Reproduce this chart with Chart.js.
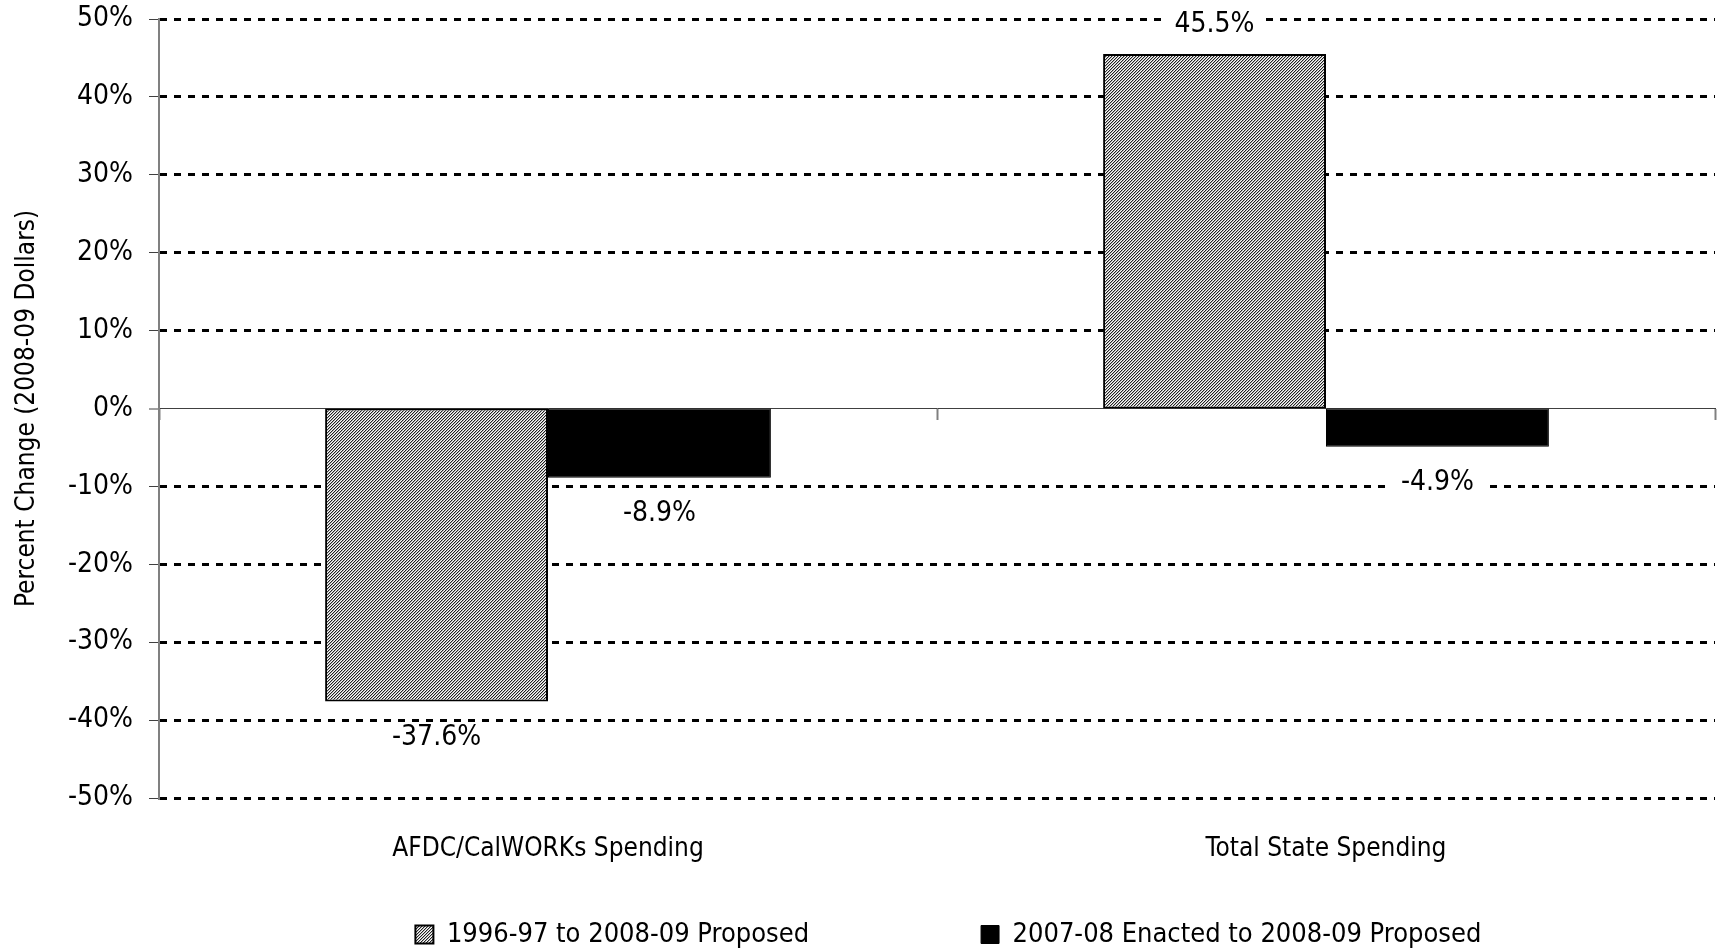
<!DOCTYPE html>
<html>
<head>
<meta charset="utf-8">
<title>Percent Change in Spending</title>
<script src="https://cdn.jsdelivr.net/npm/chart.js@4.4.1/dist/chart.umd.min.js"></script>
<style>
  html, body { margin: 0; padding: 0; background: #fff; }
  #wrap { width: 1721px; height: 950px; }
</style>
</head>
<body>
<div id="wrap"><canvas id="myChart" width="1721" height="950"></canvas></div>
<script>
// categories and series values (percent change, 2008-09 dollars)
const categories = ['AFDC/CalWORKs Spending', 'Total State Spending'];
const longTerm = [-37.6, 45.5];   // 1996-97 to 2008-09 Proposed
const shortTerm = [-8.9, -4.9];   // 2007-08 Enacted to 2008-09 Proposed
const seriesNames = ['1996-97 to 2008-09 Proposed', '2007-08 Enacted to 2008-09 Proposed'];
const yTicks = [-50, -40, -30, -20, -10, 0, 10, 20, 30, 40, 50];

const FONT = "'DejaVu Sans Condensed', 'Liberation Sans Narrow', sans-serif";
const FS = 26;

// fine diagonal hatch for the first series
function makeHatch() {
    const c = document.createElement('canvas');
    c.width = 3; c.height = 3;
    const g = c.getContext('2d');
    const shades = ['#222', '#b0b0b0', '#fafafa'];
    for (let x = 0; x < 3; x++) {
        for (let y = 0; y < 3; y++) {
            g.fillStyle = shades[(x + y) % 3];
            g.fillRect(x, y, 1, 1);
        }
    }
    return g.createPattern(c, 'repeat');
}

// value labels past the bar end, on a white patch so the gridline breaks
const valueLabels = {
    id: 'valueLabels',
    afterDatasetsDraw(chart) {
        const ctx = chart.ctx;
        ctx.save();
        ctx.font = '28px ' + FONT;
        ctx.textAlign = 'center';
        ctx.textBaseline = 'middle';
        chart.data.datasets.forEach((ds, i) => {
            chart.getDatasetMeta(i).data.forEach((bar, j) => {
                const v = ds.data[j];
                const txt = v.toFixed(1) + '%';
                const y = v >= 0 ? bar.y - 30 : bar.y + 35;
                const w = ctx.measureText(txt).width + 22;
                ctx.fillStyle = '#fff';
                ctx.fillRect(bar.x - w / 2, y - 14, w, 28);
                ctx.fillStyle = '#000';
                ctx.fillText(txt, bar.x, y + 1);
            });
        });
        ctx.restore();
    }
};

const config = {
    type: 'bar',
    data: {
        labels: categories,
        datasets: [{
            label: seriesNames[0],
            data: longTerm,
            backgroundColor: makeHatch(),
            borderColor: '#000',
            borderWidth: 2,
            borderSkipped: false
        },
        {
            label: seriesNames[1],
            data: shortTerm,
            backgroundColor: '#000',
            borderColor: '#000',
            borderWidth: 1,
            borderSkipped: false
        }]
    },
    options: {
        responsive: false,
        animation: false,
        layout: { padding: { top: 19, right: 6, left: 4, bottom: -8 } },
        datasets: { bar: { categoryPercentage: 0.573, barPercentage: 1 } },
        plugins: {
            tooltip: { enabled: false },
            legend: {
                position: 'bottom',
                fullSize: false,
                align: 'end',
                labels: {
                    font: { family: FONT, size: 27 },
                    color: '#000',
                    boxWidth: 18,
                    boxHeight: 18,
                    padding: 10,
                    // space the two keys apart and keep them off the right edge
                    generateLabels(chart) {
                        const items = Chart.defaults.plugins.legend.labels.generateLabels(chart);
                        items[0].text += '\u00a0'.repeat(21);
                        items[1].text += '\u00a0'.repeat(29);
                        return items;
                    }
                }
            }
        },
        scales: {
            // zero line with the category tick marks
            x: {
                type: 'category',
                position: { y: 0 },
                offset: true,
                ticks: { display: false },
                border: { color: '#404040', width: 1 },
                grid: {
                    offset: true,
                    drawOnChartArea: false,
                    drawTicks: true,
                    tickLength: 11,
                    tickColor: '#808080',
                    tickWidth: 2
                }
            },
            // category names under the plot
            xNames: {
                type: 'category',
                labels: categories,
                position: 'bottom',
                offset: true,
                border: { display: false },
                grid: { display: false, drawTicks: false },
                ticks: {
                    font: { family: FONT, size: FS },
                    color: '#000',
                    padding: 36
                },
                afterFit(axis) { axis.height = 113; }
            },
            y: {
                min: -50,
                max: 50,
                afterBuildTicks(axis) { axis.ticks = yTicks.map(v => ({ value: v })); },
                afterFit(axis) {
                    axis.width = 155;
                    axis.paddingTop = 0;
                    axis.paddingBottom = 0;
                },
                border: { color: '#808080', width: 2, dash: [7, 7] },
                grid: {
                    color: '#000',
                    lineWidth: ctx => (ctx.tick && ctx.tick.value === 0) ? 0 : 3,
                    tickLength: 10,
                    tickColor: '#404040',
                    tickWidth: 1
                },
                ticks: {
                    font: { family: FONT, size: 28 },
                    color: '#000',
                    padding: 16,
                    callback: v => v + '%'
                },
                title: {
                    display: true,
                    text: 'Percent Change (2008-09 Dollars)',
                    font: { family: FONT, size: 26 },
                    color: '#000',
                    padding: { top: 8, bottom: 0 }
                }
            }
        }
    },
    plugins: [valueLabels]
};

new Chart(document.getElementById('myChart').getContext('2d'), config);
</script>
</body>
</html>
